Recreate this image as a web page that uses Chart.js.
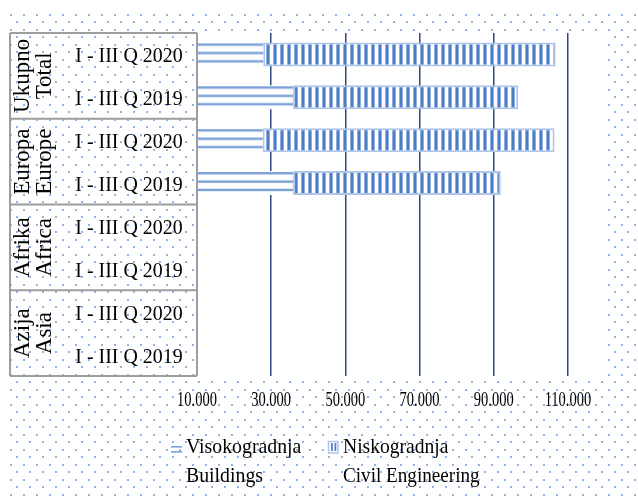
<!DOCTYPE html>
<html>
<head>
<meta charset="utf-8">
<script src="https://cdn.jsdelivr.net/npm/chart.js@4.4.1/dist/chart.umd.min.js"></script>
<style>
    html, body { margin: 0; padding: 0; background: #fff; }
    canvas { display: block; }
</style>
</head>
<body>
<canvas id="chart" width="638" height="500"></canvas>
<script>
// data
const regions = [['Ukupno', 'Total'], ['Europa', 'Europe'], ['Afrika', 'Africa'], ['Azija', 'Asia']];
const periods = ['I - III Q 2020', 'I - III Q 2019'];
const seriesNames = [['Visokogradnja', 'Buildings'], ['Niskogradnja', 'Civil Engineering']];
const buildings = [27850, 35900, 27700, 35900, 100, 100, 50, 0];
const civil = [78850, 60700, 78700, 56000, 120, 4200, 30, 500];
const xTicks = [10000, 30000, 50000, 70000, 90000, 110000];
const xMin = 10000;
const xMax = 120000;

const labels = [];
regions.forEach((r) => periods.forEach((p) => labels.push(r[1] + ' ' + p)));

const FONT = '"Liberation Serif", "Times New Roman", serif';
const barFraction = 0.56;

const canvas = document.getElementById('chart');
const ctx = canvas.getContext('2d');

function makeTile(w, h, draw) {
    const c = document.createElement('canvas');
    c.width = w;
    c.height = h;
    draw(c.getContext('2d'));
    return c;
}

// page background dots
const dotTile = makeTile(13, 15, (t) => {
    t.fillStyle = '#93b3e4';
    t.fillRect(1, 1, 2, 2);
    t.fillRect(7, 8, 2, 2);
});

// horizontal stripes (Visokogradnja)
const hTile = makeTile(4, 25, (t) => {
    t.fillStyle = '#fff';
    t.fillRect(0, 0, 4, 25);
    t.fillStyle = '#7ca1da';
    t.fillRect(0, 1, 4, 2.4);
    t.fillRect(0, 9.4, 4, 2.4);
    t.fillRect(0, 17.7, 4, 2.4);
});

// vertical stripes (Niskogradnja)
const vTile = makeTile(7, 4, (t) => {
    t.fillStyle = '#fff';
    t.fillRect(0, 0, 7, 4);
    t.fillStyle = '#8eaee0';
    t.fillRect(0, 0, 1, 4);
    t.fillRect(3, 0, 1, 4);
    t.fillStyle = '#4c7ec6';
    t.fillRect(1, 0, 2, 4);
});
const vPattern = ctx.createPattern(vTile, 'repeat');

const formatNumber = (v) => String(v).replace(/\B(?=(\d{3})+(?!\d))/g, '.');

function barTop(chart, index) {
    const y = chart.scales.y;
    const step = y.getPixelForValue(1) - y.getPixelForValue(0);
    return y.getPixelForValue(index) - (step * barFraction) / 2;
}

function drawText(c, str, x, y, size, sx, align) {
    c.save();
    c.translate(x, y);
    c.scale(sx, 1);
    c.font = size + 'px ' + FONT;
    c.textAlign = align || 'left';
    c.textBaseline = 'alphabetic';
    c.fillStyle = '#000';
    c.fillText(str, 0, 0);
    c.restore();
}

const backgroundPlugin = {
    id: 'paperBackground',
    beforeDraw: (chart) => {
        const c = chart.ctx;
        const area = chart.chartArea;
        c.save();
        c.fillStyle = '#fff';
        c.fillRect(0, 0, chart.width, chart.height);
        c.translate(9, 13);
        c.fillStyle = c.createPattern(dotTile, 'repeat');
        c.fillRect(0, 0, chart.width - 9, chart.height - 13);
        c.restore();
        c.fillStyle = '#fff';
        c.fillRect(area.left, area.top, area.right - area.left, area.bottom - area.top);
    },
};

const labelsPlugin = {
    id: 'tableLabels',
    afterDraw: (chart) => {
        const c = chart.ctx;
        const area = chart.chartArea;
        const y = chart.scales.y;
        const x = chart.scales.x;
        const step = (area.bottom - area.top) / labels.length;
        const groupH = step * periods.length;

        // label table
        c.save();
        c.strokeStyle = '#9d9d9d';
        c.lineWidth = 2;
        c.beginPath();
        c.moveTo(10, area.top);
        c.lineTo(10, area.bottom);
        c.moveTo(area.left, area.top);
        c.lineTo(area.left, area.bottom);
        for (let g = 0; g <= regions.length; g++) {
            const gy = area.top + g * groupH;
            c.moveTo(10, gy);
            c.lineTo(area.left, gy);
        }
        c.stroke();
        c.restore();

        // region names, rotated
        regions.forEach((names, g) => {
            const cy = area.top + g * groupH + groupH / 2;
            names.forEach((name, line) => {
                c.save();
                c.translate(29 + line * 22, cy);
                c.rotate(-Math.PI / 2);
                c.font = '23px ' + FONT;
                c.textAlign = 'center';
                c.textBaseline = 'alphabetic';
                c.fillStyle = '#000';
                c.fillText(name, 0, 0);
                c.restore();
            });
        });

        // period labels
        labels.forEach((_, i) => {
            drawText(c, periods[i % periods.length], 129, y.getPixelForValue(i) + 8, 21, 0.95, 'center');
        });

        // value axis labels
        x.ticks.forEach((t) => {
            drawText(c, formatNumber(t.value), x.getPixelForValue(t.value), 406, 21, 0.69, 'center');
        });

        // legend
        c.save();
        c.fillStyle = '#7ca1da';
        c.fillRect(171, 446, 11, 1.6);
        c.fillRect(171, 451, 11, 1.6);
        c.fillStyle = '#fff';
        c.fillRect(328, 441, 10, 12);
        c.fillStyle = '#4c7ec6';
        c.fillRect(331, 443, 1.8, 8);
        c.fillRect(334.5, 443, 1.8, 8);
        c.strokeStyle = '#aec4ea';
        c.lineWidth = 1.5;
        c.strokeRect(328.5, 441.5, 9.5, 11.5);
        c.restore();
        drawText(c, seriesNames[0][0], 186, 453, 22, 0.9);
        drawText(c, seriesNames[0][1], 186, 482, 22, 0.9);
        drawText(c, seriesNames[1][0], 343, 453, 22, 0.89);
        drawText(c, seriesNames[1][1], 343, 482, 22, 0.87);
    },
};

const config = {
    type: 'bar',
    data: {
        labels: labels,
        datasets: [
            {
                label: seriesNames[0].join(' '),
                data: buildings,
                backgroundColor: (c) => {
                    if (c.type !== 'data' || !c.chart.scales.y) {
                        return '#7ca1da';
                    }
                    const top = barTop(c.chart, c.dataIndex);
                    if (!isFinite(top)) {
                        return '#7ca1da';
                    }
                    const p = c.chart.ctx.createPattern(hTile, 'repeat');
                    p.setTransform(new DOMMatrix().translate(0, top));
                    return p;
                },
                borderWidth: 0,
            },
            {
                label: seriesNames[1].join(' '),
                data: civil,
                backgroundColor: vPattern,
                borderColor: '#aec4ea',
                borderWidth: 2,
                borderSkipped: false,
            },
        ],
    },
    options: {
        indexAxis: 'y',
        responsive: false,
        animation: false,
        events: [],
        categoryPercentage: barFraction,
        barPercentage: 1,
        datasets: {
            bar: {
                clip: 0,
            },
        },
        layout: {
            padding: { left: 197, right: 33, top: 33, bottom: 0 },
        },
        plugins: {
            legend: { display: false },
            tooltip: { enabled: false },
        },
        scales: {
            x: {
                stacked: true,
                min: xMin,
                max: xMax,
                border: { display: false },
                grid: {
                    drawTicks: false,
                    lineWidth: 1.5,
                    color: (c) => (c.tick && c.tick.value === xMin ? 'rgba(0,0,0,0)' : '#2b4a7e'),
                },
                ticks: {
                    display: false,
                },
                afterBuildTicks: (scale) => {
                    scale.ticks = xTicks.map((v) => ({ value: v }));
                },
                afterFit: (scale) => {
                    scale.height = 124;
                },
            },
            y: {
                stacked: true,
                display: false,
            },
        },
    },
    plugins: [backgroundPlugin, labelsPlugin],
};

new Chart(ctx, config);
</script>
</body>
</html>
